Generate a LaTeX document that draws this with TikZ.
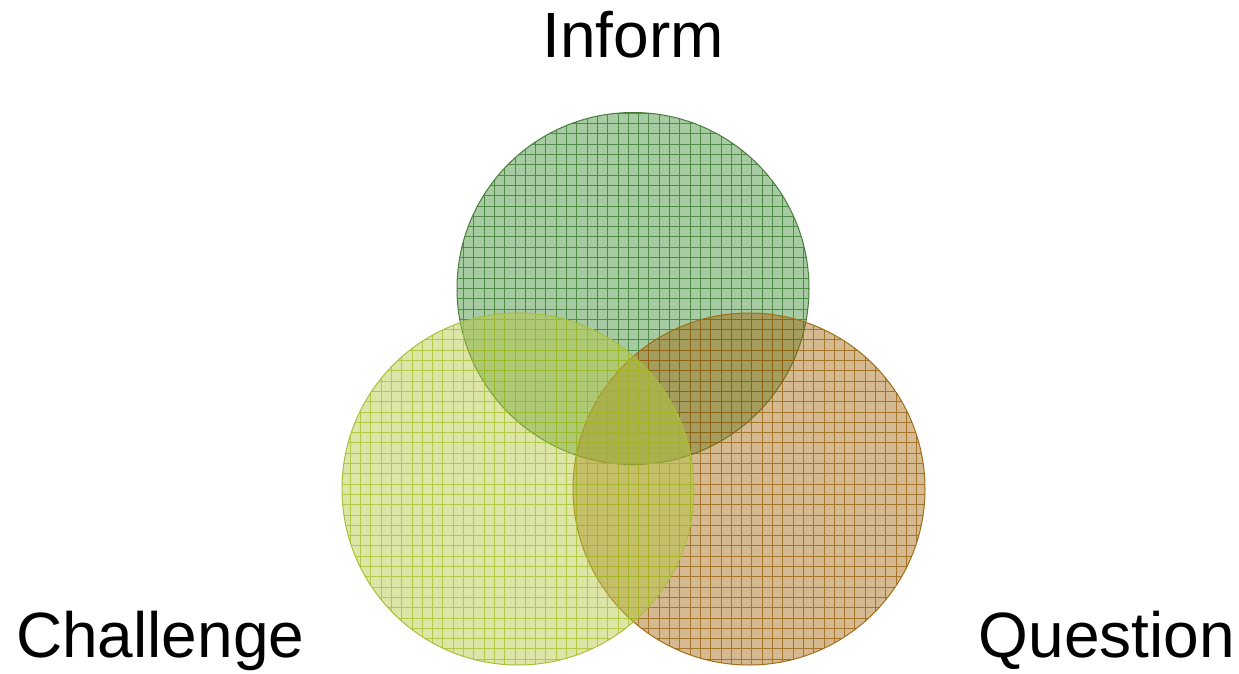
\documentclass[tikz,border=0pt]{standalone}
\usepackage{fontspec}
\setmainfont{Liberation Sans}
\definecolor{gbase}{RGB}{60,140,50}
\definecolor{gline}{RGB}{50,120,40}
\definecolor{gedge}{RGB}{70,125,55}
\definecolor{ybase}{RGB}{180,200,60}
\definecolor{yline}{RGB}{165,190,40}
\definecolor{yedge}{RGB}{170,190,60}
\definecolor{bbase}{RGB}{160,100,10}
\definecolor{bline}{RGB}{150,95,10}
\definecolor{bedge}{RGB}{160,110,20}
\tikzset{
  lbl/.style={font=\fontsize{64}{72}\selectfont, inner sep=0pt},
  gridlines/.style={line width=1pt, draw opacity=0.75}
}
\newcommand{\venncircle}[5]{%
  % #1 name, #2 center, #3 base, #4 line, #5 edge
  \coordinate (#1) at #2;
  \fill[#3, fill opacity=0.45] (#1) circle[radius=176pt];
  \begin{scope}
    \clip (#1) circle[radius=176pt];
    \draw[#4, gridlines, step=10.3pt] ($(#1)+(-190pt,-190pt)$) grid ($(#1)+(190pt,190pt)$);
  \end{scope}
  \draw[#5, line width=1pt] (#1) circle[radius=176pt];
}
\usetikzlibrary{calc}
\begin{document}
\begin{tikzpicture}[x=1pt,y=-1pt]
\useasboundingbox (0,0) rectangle (1239,674);
\venncircle{inf}{(633,288.5)}{gbase}{gline}{gedge}
\venncircle{que}{(749,489)}{bbase}{bline}{bedge}
\venncircle{cha}{(518,489)}{ybase}{yline}{yedge}
\node[lbl, anchor=base] (tinf) at (633,58) {Inform};
\node[lbl, anchor=base west] (tcha) at (16,657) {Challenge};
\node[lbl, anchor=base east] (tque) at (1235,657) {Question};
\end{tikzpicture}
\end{document}
